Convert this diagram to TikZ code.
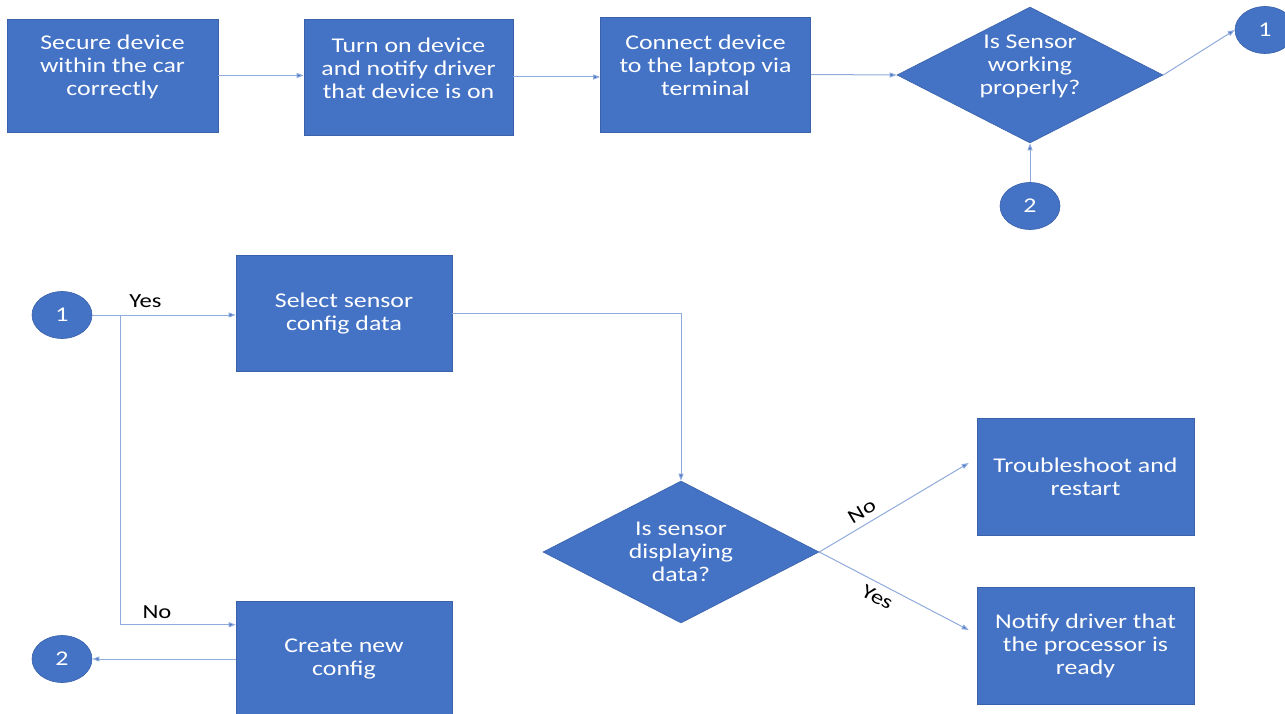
\documentclass[tikz,border=0pt]{standalone}
\usepackage{fontspec}
\setmainfont{Carlito}[FakeStretch=1.23]
\usetikzlibrary{shapes.geometric, arrows.meta, positioning}

\definecolor{boxblue}{RGB}{68,114,196}
\definecolor{edgeblue}{RGB}{58,98,170}
\definecolor{linkblue}{RGB}{143,170,220}
\newcommand{\boxfont}{\fontsize{21}{23}\selectfont}

\tikzset{
  box/.style={rectangle, fill=boxblue, draw=edgeblue, line width=0.6pt, text=white,
    align=center, inner sep=0pt, font=\boxfont},
  decision/.style={diamond, fill=boxblue, draw=edgeblue, line width=0.6pt, text=white,
    align=center, inner sep=0pt, font=\boxfont},
  connector/.style={ellipse, fill=boxblue, draw=edgeblue, line width=0.6pt, text=white,
    inner sep=0pt, minimum width=60pt, minimum height=47pt, font=\boxfont},
  boxtext/.style={text=white, align=center, font=\boxfont},
  uptext/.style={boxtext, yshift=9pt},
  flow/.style={linkblue, line width=1pt, -{Triangle[length=7pt, width=5pt, fill=boxblue]}},
  answer/.style={text=black, font=\fontsize{20}{22}\selectfont}
}

\begin{document}
\begin{tikzpicture}[x=1pt, y=-1pt]
    \useasboundingbox (0,0) rectangle (1285,714);

    % 1. Hàng trên: các bước chuẩn bị
    \node[box, minimum width=211pt, minimum height=113pt,
      label={[uptext]center:Secure device\\within the car\\correctly}] (secure) at (112.5,75.5) {};
    \node[box, minimum width=209pt, minimum height=116pt,
      label={[uptext]center:Turn on device\\and notify driver\\that device is on}] (turnon) at (408.5,77) {};
    \node[box, minimum width=210pt, minimum height=115pt,
      label={[uptext]center:Connect device\\to the laptop via\\terminal}] (connect) at (705.5,74.5) {};
    \node[decision, minimum width=266pt, minimum height=136pt,
      label={[uptext]center:Is Sensor\\working\\properly?}] (working) at (1030,75) {};
    \node[connector] (onetop) at (1265,30) {1};
    \node[connector] (twotop) at (1030,206) {2};

    % 2. Hàng dưới: cấu hình và kiểm tra dữ liệu
    \node[connector] (one) at (62,315) {1};
    \node[connector] (two) at (62,659) {2};
    \node[box, minimum width=216pt, minimum height=116pt] (select) at (344,313.5) {Select sensor\\config data};
    \node[box, minimum width=216pt, minimum height=116pt] (create) at (344,659) {Create new\\config};
    \node[decision, minimum width=276pt, minimum height=142pt,
      label={[boxtext]center:Is sensor\\displaying\\data?}] (displaying) at (681,552) {};
    \node[box, minimum width=217pt, minimum height=117pt] (trouble) at (1085.5,476.5) {Troubleshoot and\\restart};
    \node[box, minimum width=217pt, minimum height=117pt] (notify) at (1085.5,645.5) {Notify driver that\\the processor is\\ready};
    \coordinate (split) at (120,315);

    % 3. Các mũi tên nối
    \draw[flow] (secure.east) -- (secure.east -| turnon.west);
    \draw[flow] (turnon.east) -- (turnon.east -| connect.west);
    \draw[flow] (connect.east) -- (working.west);
    \draw[flow] (working.east) -- (onetop.west);
    \draw[flow] (twotop.north) -- (working.south);

    \draw[flow] (one.east) -- node[answer, above=4pt, pos=0.37] {Yes} (one.east -| select.west);
    \draw[flow] (split) |- node[answer, above=2pt, pos=0.66] {No} ([yshift=-24pt]create.north west);
    \draw[flow] (create.west) -- (two.east);
    \draw[flow] (select.east) -| (displaying.north);

    \draw[flow] (displaying.east) -- node[answer, sloped, above=3pt, pos=0.33] {No}
      ([xshift=-8pt, yshift=13.5pt]trouble.west);
    \draw[flow] (displaying.east) -- node[answer, sloped, below=3pt, pos=0.43] {Yes}
      ([xshift=-8pt, yshift=15.5pt]notify.west);

\end{tikzpicture}
\end{document}
